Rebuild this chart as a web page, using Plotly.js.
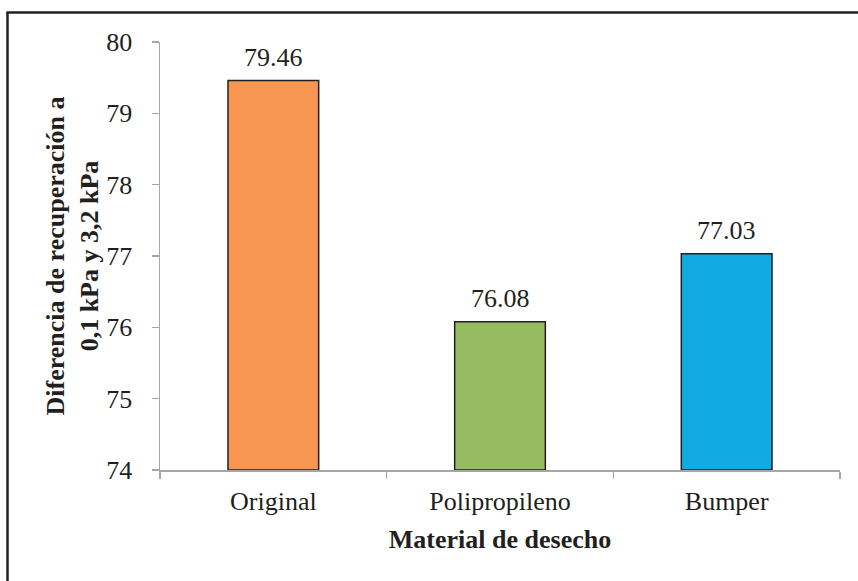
<!DOCTYPE html>
<html>
<head>
<meta charset="utf-8">
<script src="https://cdn.plot.ly/plotly-3.0.1.min.js"></script>
<style>
html,body{margin:0;padding:0;background:#fff;}
#chart{width:858px;height:581px;}
</style>
</head>
<body>
<div id="chart"></div>
<script>
const categories = ["Original", "Polipropileno", "Bumper"];
const values = [79.46, 76.08, 77.03];
const barColors = ["#F79552", "#96BC62", "#10ABE2"];
const yTickVals = [74, 75, 76, 77, 78, 79, 80];
const yBase = 74;

const W = 858, H = 581;
const m = {l: 160, r: 18, t: 42, b: 111};
const pw = W - m.l - m.r, ph = H - m.t - m.b;
const px = v => (v - m.l) / pw;
const py = v => (H - m.b - v) / ph;

const font = "Liberation Serif, Times New Roman, serif";

const trace = {
  type: "bar",
  x: categories,
  y: values.map(v => v - yBase),
  base: yBase,
  marker: {color: barColors, line: {color: "#231F20", width: 1.5}},
  hoverinfo: "skip"
};

const annotations = categories.map((c, i) => ({
  x: c, y: values[i], xref: "x", yref: "y",
  text: values[i].toFixed(2), showarrow: false,
  yanchor: "bottom", yshift: 7,
  font: {family: font, size: 26, color: "#231F20"}
}));

const layout = {
  width: W, height: H,
  margin: m,
  paper_bgcolor: "#fff", plot_bgcolor: "#fff",
  showlegend: false,
  bargap: 0.6,
  font: {family: font, size: 26, color: "#231F20"},
  xaxis: {
    type: "category",
    range: [-0.5, 2.5],
    showline: true, linecolor: "#A6A6A6", linewidth: 1.5,
    ticks: "outside", tickson: "boundaries", ticklen: 7, tickwidth: 1.5, tickcolor: "#A6A6A6",
    ticklabelstandoff: 7,
    showgrid: false, zeroline: false,
    tickfont: {family: font, size: 26, color: "#231F20"},
    title: {text: "<b>Material de desecho</b>", standoff: 15,
            font: {family: font, size: 26, color: "#231F20"}}
  },
  yaxis: {
    range: [74, 80],
    tickvals: yTickVals,
    ticktext: yTickVals.map(String),
    tickmode: "array",
    showline: true, linecolor: "#A6A6A6", linewidth: 1.5,
    ticks: "outside", ticklen: 7, tickwidth: 1.5, tickcolor: "#A6A6A6",
    ticklabelstandoff: 14,
    showgrid: false, zeroline: false,
    tickfont: {family: font, size: 26, color: "#231F20"},
    title: {text: "<b>Diferencia de recuperación a<br>0,1 kPa y 3,2 kPa</b>", standoff: 0,
            font: {family: font, size: 26, color: "#231F20"}}
  },
  annotations: annotations,
  shapes: [
    {type: "line", xref: "paper", yref: "paper", x0: px(7.5), x1: px(7.5), y0: py(12), y1: py(H + 2),
     line: {color: "#231F20", width: 2.5}},
    {type: "line", xref: "paper", yref: "paper", x0: px(6.5), x1: px(W + 2), y0: py(12.5), y1: py(12.5),
     line: {color: "#231F20", width: 2.5}}
  ]
};

Plotly.newPlot("chart", [trace], layout, {staticPlot: true, displayModeBar: false});
</script>
</body>
</html>
